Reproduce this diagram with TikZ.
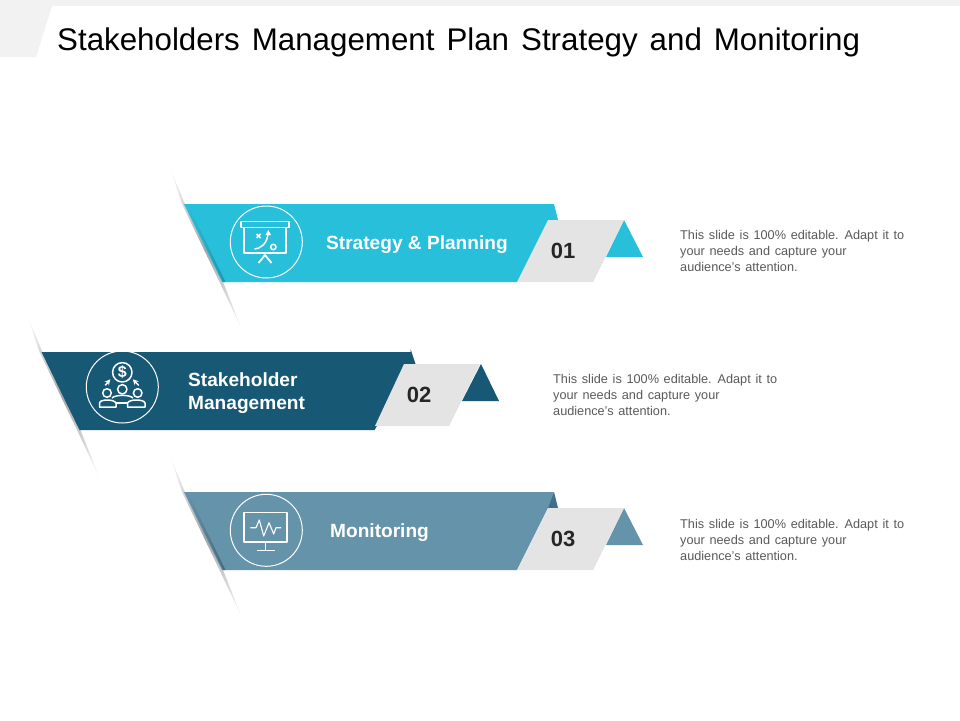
\documentclass[tikz,border=0pt]{standalone}
\usepackage{fontspec}
\setmainfont{Liberation Sans}
\usetikzlibrary{positioning}
\definecolor{cyanband}{HTML}{28BFDB}
\definecolor{navyband}{HTML}{175875}
\definecolor{slateband}{HTML}{6593AA}
\definecolor{slatetip}{HTML}{3F6F8A}
\definecolor{tagfill}{HTML}{E4E4E4}
\definecolor{barfill}{HTML}{F2F2F2}
\definecolor{notetext}{HTML}{595959}
\definecolor{numtext}{HTML}{262626}

\begin{document}
\begin{tikzpicture}[x=1pt,y=-1pt]
    \tikzstyle{sliver} = [top color=white,bottom color=white,middle color=black!35]
    \tikzstyle{tag} = [fill=tagfill]
    \tikzstyle{number} = [anchor=center,text=numtext,font=\fontsize{22}{22}\selectfont\bfseries]
    \tikzstyle{heading} = [anchor=west,inner sep=0pt,align=left,text=white,font=\fontsize{19.1}{23}\selectfont\bfseries]
    \tikzstyle{note} = [anchor=north west,inner sep=0pt,align=left,text=notetext,font=\fontsize{12.7}{16}\selectfont\spaceskip 4.7pt\relax]
    \tikzstyle{ring} = [draw=white,line width=1pt]
    \tikzstyle{icon} = [draw=white,line width=1.5pt,line join=round]
    \tikzstyle{thinicon} = [draw=white,line width=1.1pt,line join=round]
    \useasboundingbox (0,0) rectangle (960,720);

    % title band
    \fill [barfill] (0,0) rectangle (960,6);
    \fill [barfill] (0,0) -- (54,0) -- (36,57) -- (0,57) -- cycle;
    \node (title) [anchor=west,inner sep=0pt,font=\fontsize{31.3}{32}\selectfont\spaceskip 12pt\relax] at (57,42) {Stakeholders Management Plan Strategy and Monitoring};

    % first row
    \shade [sliver] (170,168) -- (182,204) -- (219.5,282) -- (243,332) -- (223,282) -- (185,204) -- cycle;
    \fill [cyanband] (184,204) -- (554,204) -- (558,220) -- (517,282) -- (222,282) -- cycle;
    \shade [top color=cyanband,bottom color=cyanband!78!black] (185,204) -- (223,282) -- (225.5,282) -- (187.5,204) -- cycle;
    \fill [cyanband] (624,220) -- (643,257) -- (606,257) -- cycle;
    \fill [tag] (548,220) -- (624,220) -- (593,282) -- (517,282) -- cycle;
    \node (num1) [number] at (563,251) {01};
    \node (head1) [heading] at (326,245) {Strategy \& Planning};
    \node (note1) [note] at (680,230) {This slide is 100\% editable. Adapt it to\\your needs and capture your\\audience's attention.};
    \draw [ring] (266.3,242) circle (36);
    \draw [icon,line width=1.8pt] (241,221.5) rectangle (289,227.5);
    \draw [icon,line width=1.8pt] (244,227.5) rectangle (286,253);
    \draw [icon,line width=1.8pt] (258.5,263) -- (265,255) -- (271.5,263);
    \draw [icon] (256.5,234) -- (260.5,238) (260.5,234) -- (256.5,238);
    \draw [icon] (254.5,249) .. controls (262,248) and (267,243) .. (268,234);
    \fill [white] (268.3,230) -- (271,235) -- (265.5,235) -- cycle;
    \draw [icon] (273.3,247) circle (2.7);

    % second row
    \begin{scope}[shift={(-142.5,148)}]
        \shade [sliver] (170,168) -- (182,204) -- (219.5,282) -- (243,332) -- (223,282) -- (185,204) -- cycle;
        \fill [navyband] (184,204) -- (553,204) -- (553,201) -- (558,216) -- (517,282) -- (222,282) -- cycle;
    \end{scope}
    \fill [navyband] (481,364) -- (499,401) -- (462,401) -- cycle;
    \fill [tag] (404,364) -- (480,364) -- (449,426) -- (375,426) -- cycle;
    \node (num2) [number] at (419,395) {02};
    \node (head2) [heading] at (188,393.5) {Stakeholder\\Management};
    \node (note2) [note] at (553,374) {This slide is 100\% editable. Adapt it to\\your needs and capture your\\audience's attention.};
    \draw [ring] (122.3,387) circle (36);
    \draw [icon] (122.3,372.3) circle (9.7);
    \node (dollar) [text=white,inner sep=0pt,font=\fontsize{16}{16}\selectfont\bfseries] at (122.3,372.3) {\$};
    \draw [icon,->,>=stealth] (105.3,385.3) -- (110.3,379.3);
    \draw [icon,->,>=stealth] (138.7,385.3) -- (132.7,379.3);
    \draw [icon] (122.3,389.3) circle (4.7);
    \draw [icon] (107,393) circle (4.3);
    \draw [icon] (137.7,393) circle (4.3);
    \draw [icon] (112,398) .. controls (115,394.5) and (130,394.5) .. (133,398);
    \draw [icon] (99.5,407) -- (99.5,403) .. controls (100,399) and (114,399) .. (116,403) -- (116,407) -- cycle;
    \draw [icon] (127.5,407) -- (127.5,403) .. controls (129,399) and (144,399) .. (145,403) -- (145,407) -- cycle;
    \draw [icon] (116,403) -- (127.5,403);

    % third row
    \begin{scope}[shift={(0,288)}]
        \shade [sliver] (170,168) -- (182,204) -- (219.5,282) -- (243,332) -- (223,282) -- (185,204) -- cycle;
        \fill [slatetip] (554,204) -- (558,220) -- (546,220) -- cycle;
        \fill [slateband] (184,204) -- (554,204) -- (548,220) -- (517,282) -- (222,282) -- cycle;
        \shade [top color=slateband,bottom color=slateband!72!black] (185,204) -- (223,282) -- (225.5,282) -- (187.5,204) -- cycle;
        \fill [slateband] (624,220) -- (643,257) -- (606,257) -- cycle;
        \fill [tag] (548,220) -- (624,220) -- (593,282) -- (517,282) -- cycle;
    \end{scope}
    \node (num3) [number] at (563,539) {03};
    \node (head3) [heading] at (330,533) {Monitoring};
    \node (note3) [note] at (680,519) {This slide is 100\% editable. Adapt it to\\your needs and capture your\\audience's attention.};
    \draw [ring] (266.3,530.3) circle (36);
    \draw [thinicon] (244,512.3) rectangle (287,542);
    \draw [thinicon] (265.7,542) -- (265.7,550.7);
    \draw [thinicon] (256.7,550.7) -- (274.7,550.7);
    \draw [thinicon] (250.3,527.7) -- (256,527.7) -- (259.3,520) -- (263.7,536) -- (269,522.7) -- (273.7,534) -- (276,527.7) -- (281,527.7);
\end{tikzpicture}
\end{document}
